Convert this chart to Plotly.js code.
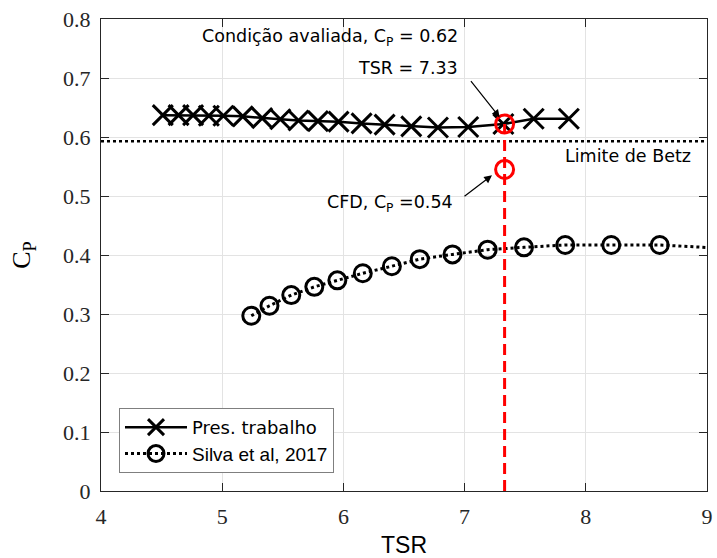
<!DOCTYPE html>
<html>
<head>
<meta charset="utf-8">
<script src="https://cdn.plot.ly/plotly-3.0.1.min.js"></script>
<style>html,body{margin:0;padding:0;background:#fff;}</style>
</head>
<body>
<div id="chart" style="width:717px;height:558px;"></div>
<script>
// Present work (Pres. trabalho)
const presTSR = [4.51, 4.64, 4.76, 4.89, 5.01, 5.17, 5.33, 5.48, 5.63, 5.79, 5.96, 6.15, 6.34, 6.56, 6.78, 7.03, 7.32, 7.57, 7.86];
const presCp  = [0.637, 0.637, 0.637, 0.636, 0.636, 0.635, 0.632, 0.630, 0.628, 0.627, 0.626, 0.623, 0.621, 0.618, 0.616, 0.617, 0.622, 0.631, 0.631];
// Silva et al, 2017
const silvaTSR = [5.24, 5.39, 5.57, 5.76, 5.95, 6.16, 6.40, 6.63, 6.90, 7.19, 7.49, 7.83, 8.21, 8.61, 9.25];
const silvaCp  = [0.297, 0.314, 0.332, 0.346, 0.357, 0.369, 0.381, 0.393, 0.401, 0.409, 0.413, 0.417, 0.417, 0.417, 0.410];
// Betz limit
const betzTSR = [4, 9];
const betzCp = [0.593, 0.593];
// Evaluated condition
const evalTSR = [7.33, 7.33];
const evalCp = [0.622, 0.545];
const evalLineCp = [0, 0.622];
const xTicks = [4, 5, 6, 7, 8, 9];
const yTicks = [0, 0.1, 0.2, 0.3, 0.4, 0.5, 0.6, 0.7, 0.8];

const SERIF = "'Liberation Serif', 'Times New Roman', serif";
const SANS = "'Liberation Sans', Arial, sans-serif";
const VERD = "'DejaVu Sans', Verdana, sans-serif";

const traces = [
  {x: betzTSR, y: betzCp, mode: 'lines', line: {color: '#000', width: 2.5, dash: 'dot'}, showlegend: false, hoverinfo: 'skip'},
  {x: silvaTSR, y: silvaCp, mode: 'lines+markers', name: '<span style="font-family:' + SANS.replace(/'/g, '') + ';font-size:19px">Silva et al, 2017</span>',
   line: {color: '#000', width: 3, dash: 'dot'},
   marker: {symbol: 'circle-open', size: 17, color: '#000', line: {width: 3, color: '#000'}}},
  {x: presTSR, y: presCp, mode: 'lines+markers', name: 'Pres. trabalho',
   line: {color: '#000', width: 2.5},
   marker: {symbol: 'x-thin-open', size: 20, color: '#000', line: {width: 3, color: '#000'}}},
  {x: [evalTSR[0], evalTSR[0]], y: evalLineCp, mode: 'lines', line: {color: '#ff0000', width: 3, dash: '11px,6px'}, showlegend: false, hoverinfo: 'skip'},
  {x: evalTSR, y: evalCp, mode: 'markers', showlegend: false,
   marker: {symbol: 'circle-open', size: 18, color: '#ff0000', line: {width: 3, color: '#ff0000'}}}
];

const annFont = {family: VERD, size: 17.5, color: '#000'};
const layout = {
  width: 717, height: 558,
  margin: {l: 101, r: 10, t: 19, b: 67},
  paper_bgcolor: '#fff', plot_bgcolor: '#fff',
  showlegend: true,
  legend: {
    x: 0.0297, y: 0.176, xanchor: 'left', yanchor: 'top',
    bgcolor: '#fff', bordercolor: '#7f7f7f', borderwidth: 1,
    font: {family: VERD, size: 18, color: '#000'},
    traceorder: 'reversed', itemwidth: 62, tracegroupgap: 0
  },
  xaxis: {
    range: [4, 9], tickvals: xTicks, ticktext: xTicks.map(String),
    showgrid: true, gridcolor: '#e3e3e3', gridwidth: 1,
    zeroline: false, showline: true, linecolor: '#262626', linewidth: 1, mirror: 'ticks',
    ticks: 'inside', ticklen: 8, tickcolor: '#262626', ticklabelstandoff: 6,
    tickfont: {family: SERIF, size: 22, color: '#262626'},
    title: {text: 'TSR', font: {family: SANS, size: 23, color: '#000'}, standoff: 10}
  },
  yaxis: {
    range: [0, 0.8], tickvals: yTicks, ticktext: yTicks.map(v => v === 0 ? '0' : v.toFixed(1)),
    showgrid: true, gridcolor: '#e3e3e3', gridwidth: 1,
    zeroline: false, showline: true, linecolor: '#262626', linewidth: 1, mirror: 'ticks',
    ticks: 'inside', ticklen: 8, tickcolor: '#262626', ticklabelstandoff: 5,
    tickfont: {family: SERIF, size: 22, color: '#262626'},
    title: {text: 'C<sub>P</sub>', font: {family: SERIF, size: 26, color: '#000'}, standoff: 24}
  },
  annotations: [
    {x: 6.962, y: 0.768, xref: 'x', yref: 'y', xanchor: 'right', yanchor: 'middle', showarrow: false,
     text: 'Condição avaliada, C<sub>P</sub> = 0.62', font: annFont},
    {x: 6.962, y: 0.717, xref: 'x', yref: 'y', xanchor: 'right', yanchor: 'middle', showarrow: false,
     text: 'TSR = 7.33', font: annFont},
    {x: 7.29, y: 0.633, xref: 'x', yref: 'y', text: '', showarrow: true, arrowhead: 2, arrowsize: 1.3, arrowwidth: 1.2, arrowcolor: '#000', ax: -30, ay: -38, standoff: 0},
    {x: 6.921, y: 0.487, xref: 'x', yref: 'y', xanchor: 'right', yanchor: 'middle', showarrow: false,
     text: 'CFD, C<sub>P</sub> =0.54', font: annFont},
    {x: 7.226, y: 0.535, xref: 'x', yref: 'y', text: '', showarrow: true, arrowhead: 2, arrowsize: 1.3, arrowwidth: 1.2, arrowcolor: '#000', ax: -29, ay: 22, standoff: 0},
    {x: 8.884, y: 0.567, xref: 'x', yref: 'y', xanchor: 'right', yanchor: 'middle', showarrow: false,
     text: 'Limite de Betz', font: annFont}
  ]
};

Plotly.newPlot('chart', traces, layout, {displayModeBar: false, staticPlot: true});
</script>
</body>
</html>
